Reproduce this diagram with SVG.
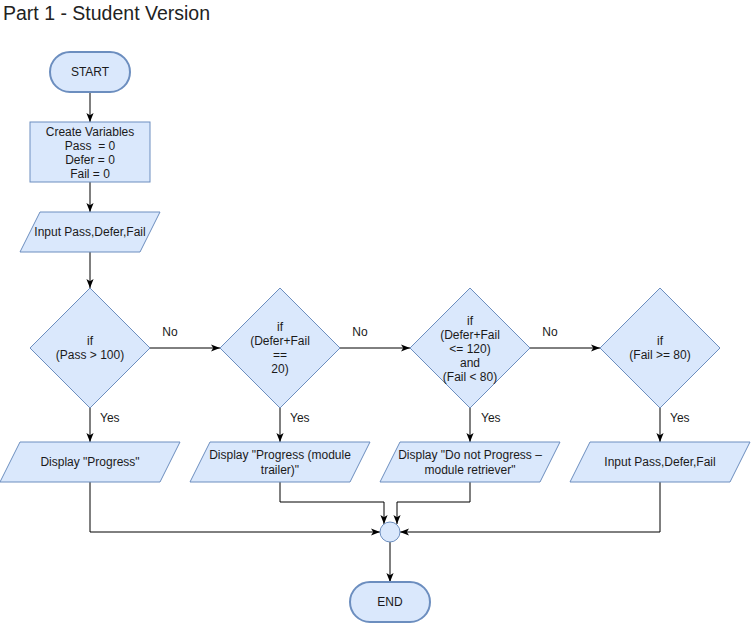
<svg xmlns="http://www.w3.org/2000/svg" width="751" height="623" viewBox="0 0 751 623">
<style>
.n{fill:#dae8fc;stroke:#6c8ebf;stroke-width:1}
.term{fill:#dae8fc;stroke:#6c8ebf;stroke-width:2}
text{font-family:"Liberation Sans",Arial,sans-serif;font-size:12px;fill:#1a1a1a}
.c{text-anchor:middle}
.title{font-size:19.5px;fill:#222}
.e{fill:none;stroke:#000;stroke-width:1}
</style>
<defs>
<marker id="arr" viewBox="0 0 10 10" refX="10" refY="5" markerWidth="9" markerHeight="9" markerUnits="userSpaceOnUse" orient="auto">
<path d="M0,1 L10,5 L0,9 L2.5,5 z" fill="#000"/>
</marker>
</defs>
<rect width="751" height="623" fill="#fff"/>
<text x="3" y="20" class="title">Part 1 - Student Version</text>

<g id="edges">
<path class="e" d="M90,92 V122" marker-end="url(#arr)"/>
<path class="e" d="M90,182 V212" marker-end="url(#arr)"/>
<path class="e" d="M90,252 V288" marker-end="url(#arr)"/>
<path class="e" d="M150,348 H220" marker-end="url(#arr)"/>
<path class="e" d="M340,348 H410" marker-end="url(#arr)"/>
<path class="e" d="M530,348 H600" marker-end="url(#arr)"/>
<path class="e" d="M90,408 V442" marker-end="url(#arr)"/>
<path class="e" d="M280,408 V442" marker-end="url(#arr)"/>
<path class="e" d="M470,408 V442" marker-end="url(#arr)"/>
<path class="e" d="M660,408 V442" marker-end="url(#arr)"/>
<path class="e" d="M90,482 V532 H380" marker-end="url(#arr)"/>
<path class="e" d="M280,482 V502 H384 V524" marker-end="url(#arr)"/>
<path class="e" d="M470,482 V502 H397 V524" marker-end="url(#arr)"/>
<path class="e" d="M660,482 V532 H400" marker-end="url(#arr)"/>
<path class="e" d="M390,542 V582" marker-end="url(#arr)"/>
<text x="170" y="336" class="c">No</text>
<text x="360" y="336" class="c">No</text>
<text x="550" y="336" class="c">No</text>
<text x="100" y="422">Yes</text>
<text x="290" y="422">Yes</text>
<text x="481" y="422">Yes</text>
<text x="670" y="422">Yes</text>
</g>

<g id="start">
<rect class="term" x="50" y="52" width="80" height="40" rx="20" ry="20"/>
<text x="90" y="76" class="c">START</text>
</g>

<g id="create">
<rect class="n" x="30" y="122" width="120" height="60"/>
<text x="90" y="136" class="c">Create Variables</text>
<text x="90" y="150" class="c" xml:space="preserve">Pass  = 0</text>
<text x="90" y="164" class="c">Defer = 0</text>
<text x="90" y="178" class="c">Fail = 0</text>
</g>

<g id="input1">
<polygon class="n" points="40,212 160,212 140,252 20,252"/>
<text x="90" y="236" class="c">Input Pass,Defer,Fail</text>
</g>

<g id="if1">
<polygon class="n" points="90,288 150,348 90,408 30,348"/>
<text x="90" y="345" class="c">if</text>
<text x="90" y="359" class="c">(Pass &gt; 100)</text>
</g>

<g id="if2">
<polygon class="n" points="280,288 340,348 280,408 220,348"/>
<text x="280" y="331" class="c">if</text>
<text x="280" y="345" class="c">(Defer+Fail</text>
<text x="280" y="359" class="c">==</text>
<text x="280" y="373" class="c">20)</text>
</g>

<g id="if3">
<polygon class="n" points="470,288 530,348 470,408 410,348"/>
<text x="470" y="325" class="c">if</text>
<text x="470" y="339" class="c">(Defer+Fail</text>
<text x="470" y="353" class="c">&lt;= 120)</text>
<text x="470" y="367" class="c">and</text>
<text x="470" y="381" class="c">(Fail &lt; 80)</text>
</g>

<g id="if4">
<polygon class="n" points="660,288 720,348 660,408 600,348"/>
<text x="660" y="345" class="c">if</text>
<text x="660" y="359" class="c">(Fail &gt;= 80)</text>
</g>

<g id="out1">
<polygon class="n" points="20,442 180,442 160,482 0,482"/>
<text x="90" y="466" class="c">Display "Progress"</text>
</g>

<g id="out2">
<polygon class="n" points="210,442 370,442 350,482 190,482"/>
<text x="280" y="459" class="c">Display "Progress (module</text>
<text x="280" y="474" class="c">trailer)"</text>
</g>

<g id="out3">
<polygon class="n" points="400,442 560,442 540,482 380,482"/>
<text x="470" y="459" class="c">Display "Do not Progress –</text>
<text x="470" y="474" class="c">module retriever"</text>
</g>

<g id="input2">
<polygon class="n" points="590,442 750,442 730,482 570,482"/>
<text x="660" y="466" class="c">Input Pass,Defer,Fail</text>
</g>

<g id="merge">
<circle class="n" cx="390" cy="532" r="10"/>
</g>

<g id="end">
<rect class="term" x="350" y="582" width="80" height="40" rx="20" ry="20"/>
<text x="390" y="606" class="c">END</text>
</g>
</svg>
